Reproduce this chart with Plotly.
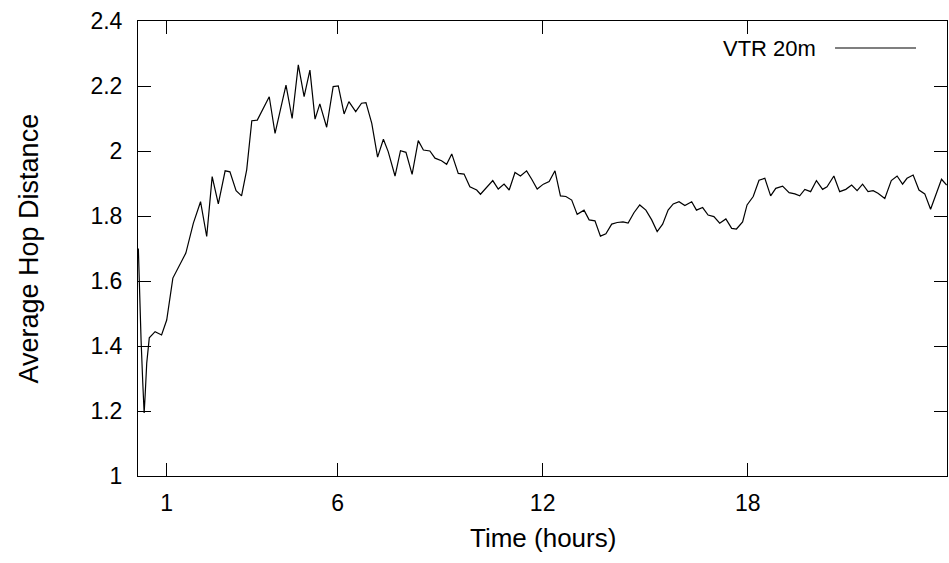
import plotly.graph_objects as go

# ---- data ----
time_hours = [
    0.17, 0.20, 0.25, 0.30, 0.34, 0.37, 0.415, 0.49, 0.66, 0.85,
    1.00, 1.18, 1.39, 1.56, 1.78, 1.99, 2.17, 2.33, 2.51, 2.71,
    2.85, 3.03, 3.19, 3.34, 3.49, 3.65, 4.00, 4.17, 4.49, 4.67,
    4.85, 5.02, 5.19, 5.34, 5.48, 5.68, 5.87, 6.02, 6.19, 6.33,
    6.53, 6.70, 6.83, 7.00, 7.17, 7.34, 7.48, 7.68, 7.84, 8.00,
    8.18, 8.36, 8.51, 8.70, 8.85, 9.04, 9.19, 9.34, 9.53, 9.70,
    9.87, 10.07, 10.18, 10.34, 10.54, 10.70, 10.87, 11.02, 11.19, 11.35,
    11.53, 11.68, 11.84, 12.02, 12.19, 12.36, 12.52, 12.68, 12.85, 13.01,
    13.21, 13.36, 13.53, 13.69, 13.85, 14.02, 14.18, 14.35, 14.50, 14.67,
    14.84, 15.02, 15.19, 15.35, 15.51, 15.67, 15.82, 15.99, 16.16, 16.36,
    16.50, 16.68, 16.84, 17.01, 17.18, 17.36, 17.53, 17.67, 17.85, 17.98,
    18.16, 18.33, 18.50, 18.67, 18.82, 19.02, 19.21, 19.38, 19.52, 19.67,
    19.84, 20.01, 20.19, 20.32, 20.52, 20.69, 20.87, 21.04, 21.20, 21.36,
    21.52, 21.67, 21.81, 22.01, 22.20, 22.37, 22.53, 22.66, 22.84, 23.01,
    23.18, 23.35, 23.50, 23.67, 23.82,
]
hop_distance = [
    1.700, 1.562, 1.418, 1.286, 1.194, 1.250, 1.347, 1.425, 1.444, 1.434,
    1.480, 1.609, 1.649, 1.686, 1.778, 1.844, 1.737, 1.921, 1.837, 1.939,
    1.936, 1.878, 1.862, 1.942, 2.093, 2.095, 2.167, 2.054, 2.203, 2.100,
    2.265, 2.167, 2.249, 2.098, 2.145, 2.073, 2.198, 2.200, 2.114, 2.152,
    2.121, 2.147, 2.149, 2.085, 1.981, 2.036, 1.998, 1.923, 2.001, 1.996,
    1.928, 2.032, 2.003, 2.000, 1.978, 1.970, 1.959, 1.991, 1.931, 1.929,
    1.890, 1.880, 1.867, 1.885, 1.909, 1.883, 1.898, 1.880, 1.934, 1.923,
    1.939, 1.913, 1.883, 1.898, 1.906, 1.939, 1.862, 1.860, 1.849, 1.805,
    1.818, 1.788, 1.785, 1.738, 1.745, 1.775, 1.780, 1.782, 1.778, 1.810,
    1.834, 1.818, 1.788, 1.752, 1.775, 1.818, 1.837, 1.844, 1.832, 1.844,
    1.818, 1.826, 1.803, 1.798, 1.778, 1.791, 1.762, 1.760, 1.782, 1.834,
    1.860, 1.910, 1.916, 1.862, 1.885, 1.892, 1.872, 1.868, 1.862, 1.882,
    1.875, 1.909, 1.882, 1.890, 1.923, 1.875, 1.882, 1.895, 1.878, 1.898,
    1.875, 1.878, 1.870, 1.854, 1.909, 1.923, 1.898, 1.916, 1.926, 1.880,
    1.868, 1.821, 1.865, 1.913, 1.895,
]
x_ticks = [1, 6, 12, 18]
y_ticks = [1, 1.2, 1.4, 1.6, 1.8, 2, 2.2, 2.4]
y_tick_labels = ["1", "1.2", "1.4", "1.6", "1.8", "2", "2.2", "2.4"]
series_name = "VTR 20m"

FONT = "Liberation Sans, Arial, sans-serif"

fig = go.Figure()
fig.add_trace(go.Scatter(
    x=time_hours, y=hop_distance, mode="lines", name=series_name,
    line=dict(color="black", width=1.2), showlegend=False,
))

axis_common = dict(
    showline=True, linecolor="black", linewidth=1, mirror="ticks",
    ticks="inside", ticklen=13, tickwidth=1, tickcolor="black",
    showgrid=False, zeroline=False,
    tickfont=dict(family=FONT, size=23, color="black"),
)

fig.update_layout(
    width=949, height=563,
    margin=dict(l=138, r=2, t=21, b=87),
    paper_bgcolor="white", plot_bgcolor="white",
    xaxis=dict(range=[0.16, 23.83], tickvals=x_ticks,
               ticklabelstandoff=6, **axis_common),
    yaxis=dict(range=[1, 2.4], tickvals=y_ticks, ticktext=y_tick_labels,
               ticklabelstandoff=10, **axis_common),
    annotations=[
        dict(text="Time (hours)", xref="paper", yref="paper", x=0.5, y=0,
             xanchor="center", yanchor="middle", yshift=-62, showarrow=False,
             font=dict(family=FONT, size=26, color="black")),
        dict(text="Average Hop Distance", xref="paper", yref="paper", x=0, y=0.5,
             xanchor="center", yanchor="middle", xshift=-110, textangle=-90,
             showarrow=False, font=dict(family=FONT, size=27, color="black")),
        dict(text=series_name, xref="paper", yref="paper", x=0.8405, y=0.9385,
             xanchor="right", yanchor="middle", showarrow=False,
             font=dict(family=FONT, size=22, color="black")),
    ],
    shapes=[
        dict(type="line", xref="paper", yref="paper", x0=0.8616, x1=0.9617,
             y0=0.9407, y1=0.9407, line=dict(color="black", width=1.2)),
    ],
)

fig.write_html("out.html")
